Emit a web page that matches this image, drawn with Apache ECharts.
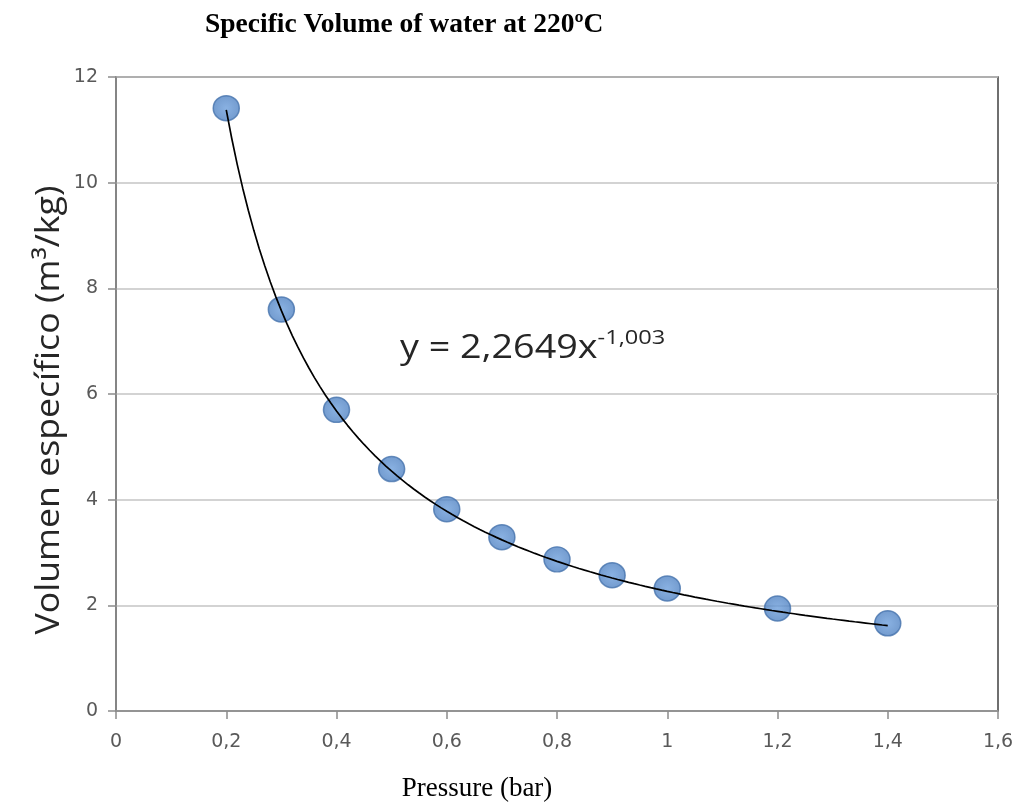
<!DOCTYPE html>
<html>
<head>
<meta charset="utf-8">
<script src="https://cdn.jsdelivr.net/npm/echarts@6/dist/echarts.min.js"></script>
<style>
  html, body { margin: 0; padding: 0; background: #ffffff; }
  #chart { width: 1020px; height: 805px; }
</style>
</head>
<body>
<div id="chart"></div>
<script>
// Measured specific volume of water at 220 ºC
const pressure = [0.2, 0.3, 0.4, 0.5, 0.6, 0.7, 0.8, 0.9, 1.0, 1.2, 1.4];
const specificVolume = [11.41, 7.60, 5.70, 4.58, 3.82, 3.29, 2.87, 2.57, 2.32, 1.94, 1.66];

// Power-law trend line y = A·x^B, as printed on the chart
const trendA = 2.2649;
const trendB = -1.003;

const xTicks = [0, 0.2, 0.4, 0.6, 0.8, 1, 1.2, 1.4, 1.6];
const yTicks = [0, 2, 4, 6, 8, 10, 12];

const titleText = 'Specific Volume of water at 220ºC';
const xName = 'Pressure (bar)';
const yName = 'Volumen específico (m³/kg)';

const comma = v => String(Number(v.toFixed(4))).replace('.', ',');

// Sample the fitted curve across the range of measured pressures
const trendPoints = [];
const pMin = Math.min(...pressure), pMax = Math.max(...pressure);
for (let i = 0; i <= 120; i++) {
  const x = pMin + (pMax - pMin) * i / 120;
  trendPoints.push([x, trendA * Math.pow(x, trendB)]);
}

const chart = echarts.init(document.getElementById('chart'));
chart.setOption({
  animation: false,
  backgroundColor: '#ffffff',
  title: {
    text: titleText,
    left: 200, top: 6,
    textStyle: { fontFamily: 'Liberation Serif', fontWeight: 'bold', fontSize: 27.5, color: '#000' }
  },
  grid: {
    left: 116, right: 22, top: 77, bottom: 94,
    outerBoundsMode: 'none',
    show: true, borderColor: '#404040', borderWidth: 1.5, backgroundColor: 'transparent'
  },
  xAxis: {
    type: 'value',
    min: xTicks[0], max: xTicks[xTicks.length - 1], interval: 0.2,
    axisLine: { show: true, lineStyle: { color: '#8c8c8c', width: 1.5 } },
    axisTick: { show: true, inside: false, length: 8, lineStyle: { color: '#8c8c8c', width: 1.5 } },
    axisLabel: { margin: 22, fontFamily: 'DejaVu Sans', fontSize: 19, color: '#595959', formatter: comma },
    splitLine: { show: false }
  },
  yAxis: {
    type: 'value',
    min: yTicks[0], max: yTicks[yTicks.length - 1], interval: 2,
    axisLine: { show: true, lineStyle: { color: '#8c8c8c', width: 1.5 } },
    axisTick: { show: true, inside: false, length: 8, lineStyle: { color: '#8c8c8c', width: 1.5 } },
    axisLabel: { margin: 18, fontFamily: 'DejaVu Sans', fontSize: 19, color: '#595959', formatter: comma },
    splitLine: { show: true, lineStyle: { color: '#c4c4c4', width: 1.5 } }
  },
  series: [
    {
      type: 'scatter',
      data: pressure.map((p, i) => [p, specificVolume[i]]),
      symbol: 'circle', symbolSize: [26, 25],
      itemStyle: {
        color: {
          type: 'radial', x: 0.5, y: 0.5, r: 0.5,
          colorStops: [{ offset: 0, color: '#6c9edb' }, { offset: 1, color: '#5082c2' }]
        },
        borderColor: '#4673ad', borderWidth: 1.5
      },
      z: 2
    },
    {
      type: 'line',
      data: trendPoints,
      showSymbol: false, smooth: false,
      lineStyle: { color: '#000', width: 1.7 },
      z: 3
    }
  ],
  graphic: [
    {
      // fitted equation
      type: 'text',
      x: 400, y: 325, scaleX: 1.18, originX: 0,
      style: {
        text: '{m|y = ' + comma(trendA) + 'x}{s|' + comma(trendB) + '}',
        rich: {
          m: { fontFamily: 'Open Sans', fontSize: 32, fill: '#262626', lineHeight: 40, verticalAlign: 'bottom' },
          s: { fontFamily: 'Open Sans', fontSize: 20, fill: '#262626', lineHeight: 40, verticalAlign: 'top', padding: [3, 0, 0, 0] }
        }
      }
    },
    {
      // y-axis title
      type: 'text',
      x: 50, y: 410, rotation: Math.PI / 2, scaleX: 1.08,
      style: {
        text: yName, fontFamily: 'Open Sans', fontSize: 33, fill: '#262626',
        align: 'center', verticalAlign: 'middle'
      }
    },
    {
      // x-axis title
      type: 'text',
      x: 477, y: 775,
      style: {
        text: xName, fontFamily: 'Liberation Serif', fontSize: 27, fill: '#000',
        align: 'center', verticalAlign: 'top'
      }
    }
  ]
});
</script>
</body>
</html>
